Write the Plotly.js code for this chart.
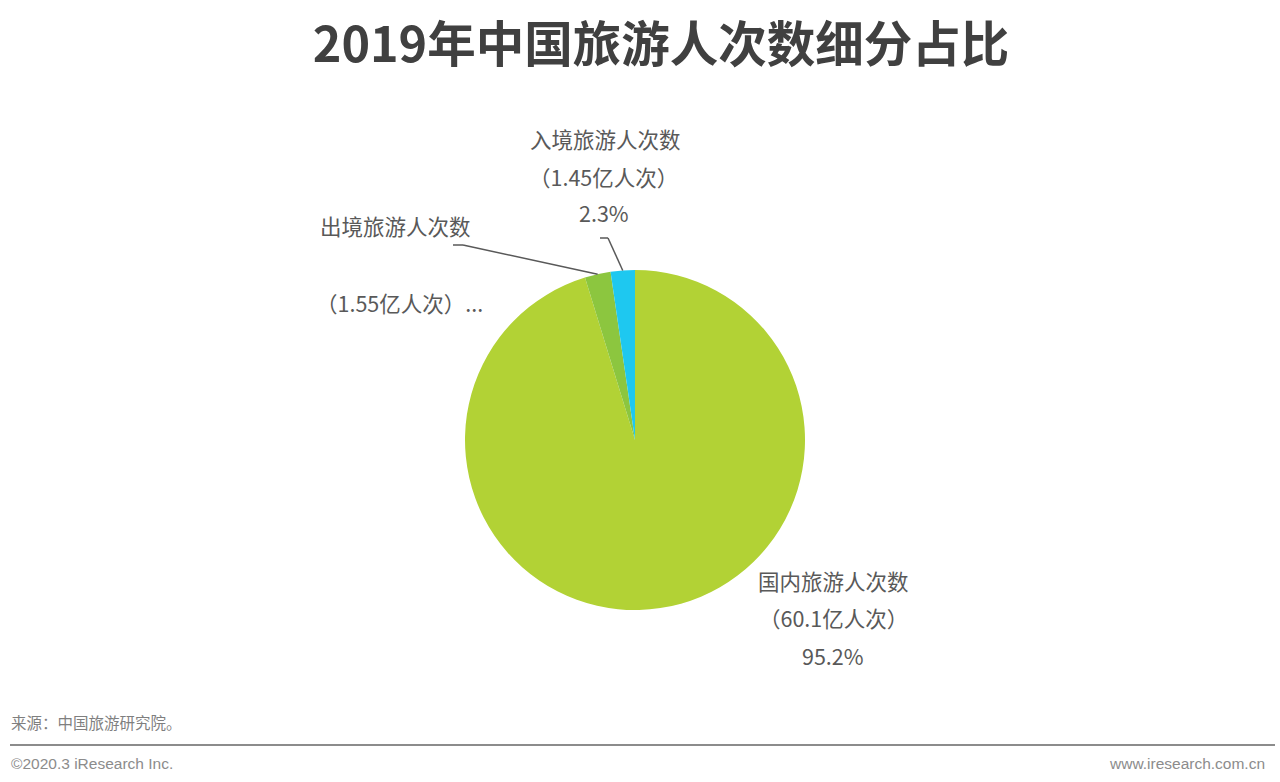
<!DOCTYPE html>
<html>
<head>
<meta charset="utf-8">
<script src="https://cdn.plot.ly/plotly-3.0.1.min.js"></script>
<style>html,body{margin:0;padding:0;background:#fff;}#chart{width:1280px;height:782px;}</style>
</head>
<body>
<div id="chart"></div>
<script>
// ---- data ----
const categories = ['国内旅游人次数', '出境旅游人次数', '入境旅游人次数'];
const values = [60.1, 1.55, 1.45];
const valueLabels = ['（60.1亿人次）', '（1.55亿人次）...', '（1.45亿人次）'];
const sliceColors = ['#b2d235', '#8cc63f', '#1ec8f0'];
const titleText = '2019年中国旅游人次数细分占比';
const sourceText = '来源：中国旅游研究院。';
const footerLeft = '©2020.3 iResearch Inc.';
const footerRight = 'www.iresearch.com.cn';

// ---- layout helpers ----
const W = 1280, H = 782;
const px = x => x / W;
const py = y => 1 - y / H;
const cx = 635, cy = 440, R = 170;
const total = values.reduce((a, b) => a + b, 0);
const pct = values.map(v => (v / total * 100).toFixed(1) + '%');
// mid angle (clockwise from 12 o'clock) of each slice
let cum = 0;
const mid = values.map(v => { const a = (cum + v / 2) / total * 2 * Math.PI; cum += v; return a; });
const edge = i => [cx + R * Math.sin(mid[i]), cy - R * Math.cos(mid[i])];

const labelFont = {family: 'Noto Sans CJK SC, Microsoft YaHei, sans-serif', size: 21.5, color: '#595959'};
const ann = (text, x, y, extra) => Object.assign({
  text, x: px(x), y: py(y), xref: 'paper', yref: 'paper',
  showarrow: false, xanchor: 'center', yanchor: 'middle', font: labelFont
}, extra || {});

const footFont = {family: 'Liberation Sans, Arial, sans-serif', size: 15.5, color: '#8c8c8c'};
const annotations = [
  // 国内
  ann(categories[0], 833, 580), ann(valueLabels[0], 833, 617), ann(pct[0], 833, 655),
  // 入境
  ann(categories[2], 605, 138), ann(valueLabels[2], 603, 176), ann(pct[2], 604, 212),
  // 出境
  ann(categories[1], 395, 226), ann(valueLabels[1], 399, 302),
  // source & footer
  ann(sourceText, 9, 722, {xanchor: 'left', font: {family: 'Noto Sans CJK SC, sans-serif', size: 15.5, color: '#7f7f7f'}}),
  ann(footerLeft, 9, 763, {xanchor: 'left', font: footFont}),
  ann(footerRight, 1267, 763, {xanchor: 'right', font: footFont})
];

// leader lines (endpoint on slice edge computed from data)
const e1 = edge(1), e2 = edge(2);
const lineStyle = {color: '#595959', width: 1.5};
const seg = (x0, y0, x1, y1, l) => ({type: 'line', xref: 'paper', yref: 'paper',
  x0: px(x0), y0: py(y0), x1: px(x1), y1: py(y1), line: l || lineStyle});
const shapes = [
  seg(453, 245, 463, 245), seg(463, 245, e1[0], e1[1]),
  seg(600, 238, 608, 238), seg(608, 238, e2[0], e2[1]),
  seg(10, 745, 1275, 745, {color: '#8c8c8c', width: 2})
];

const trace = {
  type: 'pie',
  labels: categories,
  values: values,
  sort: false,
  direction: 'clockwise',
  rotation: 0,
  textinfo: 'none',
  hoverinfo: 'label+value+percent',
  marker: {colors: sliceColors, line: {width: 0}},
  domain: {x: [px(cx - R), px(cx + R)], y: [py(cy + R), py(cy - R)]},
  showlegend: false
};

const layout = {
  width: W, height: H,
  margin: {l: 0, r: 0, t: 0, b: 0},
  paper_bgcolor: '#ffffff',
  title: {
    text: titleText, x: px(661), xanchor: 'center', y: py(45), yanchor: 'middle',
    font: {family: 'Noto Sans CJK SC, Microsoft YaHei, sans-serif', size: 48.5, color: '#404040', weight: 700}
  },
  annotations, shapes
};

Plotly.newPlot('chart', [trace], layout, {displayModeBar: false, staticPlot: true});
</script>
</body>
</html>
